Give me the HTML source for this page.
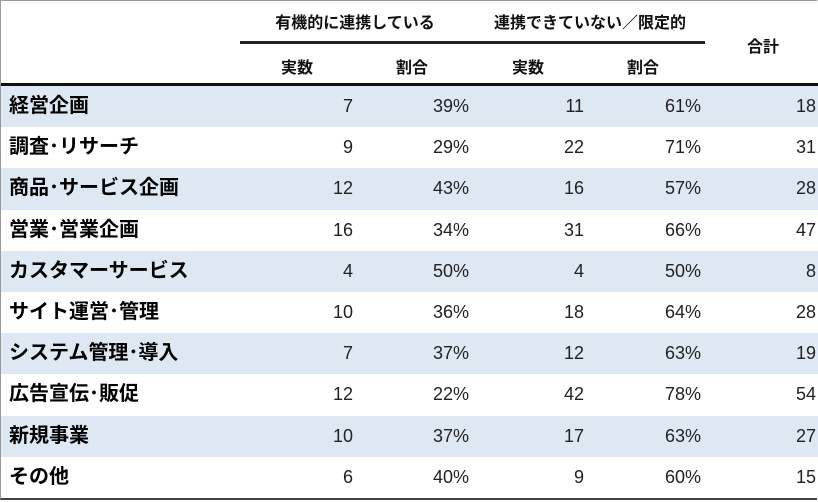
<!DOCTYPE html>
<html><head><meta charset="utf-8"><style>
body{margin:0;width:818px;height:502px;background:#fff;overflow:hidden;font-family:"Liberation Sans","Noto Sans CJK JP",sans-serif;}
.box{position:absolute;left:0;top:0;width:816px;height:497px;border-left:1px solid #999;border-top:1px solid #999;border-bottom:2px solid #444;}
.t{position:absolute;white-space:nowrap;font-size:17px;color:#111;}
.h{font-weight:bold;font-size:16px;}
.row{position:absolute;left:1px;width:817px;height:41.2px;}
.lab{position:absolute;left:8px;font-weight:bold;font-size:20px;line-height:41px;}
.n{position:absolute;line-height:41px;text-align:right;font-size:18px;color:#222;}
</style></head><body>
<div class="box"></div>
<div class="t h" style="left:260px;top:9px;width:190px;text-align:center">有機的に連携している</div>
<div class="t h" style="left:480px;top:9px;width:220px;text-align:center">連携できていない／限定的</div>
<div style="position:absolute;left:240px;top:41px;width:465px;height:3px;background:#222"></div>
<div class="t h" style="left:262px;top:54px;width:70px;text-align:center">実数</div>
<div class="t h" style="left:377px;top:54px;width:70px;text-align:center">割合</div>
<div class="t h" style="left:493px;top:54px;width:70px;text-align:center">実数</div>
<div class="t h" style="left:608px;top:54px;width:70px;text-align:center">割合</div>
<div class="t h" style="left:728px;top:33px;width:70px;text-align:center">合計</div>
<div style="position:absolute;left:1px;top:83px;width:817px;height:3px;background:#111"></div>
<div id="rows"></div>
<script>
var d=[["経営企画",7,"39%",11,"61%",18],["調査･リサーチ",9,"29%",22,"71%",31],["商品･サービス企画",12,"43%",16,"57%",28],["営業･営業企画",16,"34%",31,"66%",47],["カスタマーサービス",4,"50%",4,"50%",8],["サイト運営･管理",10,"36%",18,"64%",28],["システム管理･導入",7,"37%",12,"63%",19],["広告宣伝･販促",12,"22%",42,"78%",54],["新規事業",10,"37%",17,"63%",27],["その他",6,"40%",9,"60%",15]];
var r=[352,468,583,700,815],h="";
d.forEach(function(e,i){var top=86+i*41.2;
h+='<div class="row" style="top:'+top+'px;background:'+(i%2==0?'#dde8f3':'#fff')+'"><div class="lab">'+e[0]+'</div>';
for(var j=0;j<5;j++)h+='<div class="n" style="left:'+(r[j]-100)+'px;width:100px">'+e[j+1]+'</div>';
h+='</div>';});
document.getElementById("rows").innerHTML=h;
</script>
</body></html>
